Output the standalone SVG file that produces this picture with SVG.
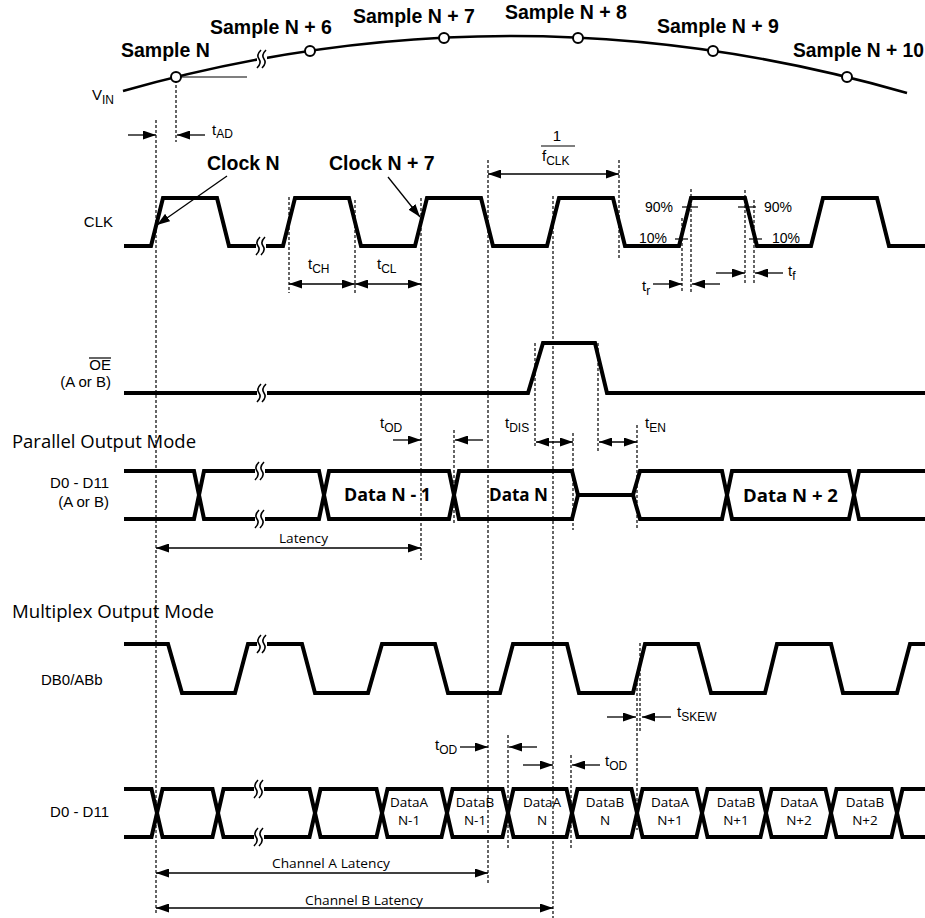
<svg xmlns="http://www.w3.org/2000/svg" width="925" height="918" viewBox="0 0 925 918">
<style>
.w{fill:none;stroke:#000;stroke-width:4;stroke-linejoin:miter}
.d{fill:none;stroke:#000;stroke-width:1.2;stroke-dasharray:3,2}
.a{fill:none;stroke:#000;stroke-width:1.3;marker-end:url(#ah)}
.aa{fill:none;stroke:#000;stroke-width:1.3;marker-start:url(#ah);marker-end:url(#ah)}
.t{fill:none;stroke:#000;stroke-width:1.2}
text{font-family:"Liberation Sans",Arial,sans-serif;fill:#000}
.b{font-weight:bold;font-size:19.5px}
.r{font-size:15px}
.s{font-size:12px}
.p{font-size:14px}
.c{font-family:"Open Sans","Liberation Sans",sans-serif}
.db{font-weight:bold;font-size:18px;text-anchor:middle}
.m{font-family:"Open Sans","Liberation Sans",sans-serif;font-size:13.5px;text-anchor:middle}
</style>
<defs>
<marker id="ah" viewBox="0 0 13 9" markerWidth="13" markerHeight="9" refX="13" refY="4.5" orient="auto-start-reverse" markerUnits="userSpaceOnUse"><path d="M0,0 L13,4.5 L0,9 z" fill="#000"/></marker>
<g id="brk"><rect x="-5" y="-4" width="10" height="8" fill="#fff"/><path d="M-1,-9 Q-6,-4 -3,0 Q0,4 -5,9 M4,-9 Q-1,-4 2,0 Q5,4 0,9" fill="none" stroke="#000" stroke-width="1.6"/></g>
</defs>
<rect width="925" height="918" fill="#fff"/>

<g id="connectors">
<line class="d" x1="156" y1="120" x2="156" y2="915"/>
<line class="d" x1="176" y1="80" x2="176" y2="142"/>
<line class="d" x1="289" y1="197" x2="289" y2="293"/>
<line class="d" x1="355" y1="200" x2="355" y2="293"/>
<line class="d" x1="421" y1="198" x2="421" y2="560"/>
<line class="d" x1="488" y1="160" x2="488" y2="885"/>
<line class="d" x1="553" y1="196" x2="553" y2="918"/>
<line class="d" x1="619" y1="160" x2="619" y2="260"/>
<line class="d" x1="682" y1="218" x2="682" y2="292"/>
<line class="d" x1="691" y1="189" x2="691" y2="292"/>
<line class="d" x1="745" y1="190" x2="745" y2="285"/>
<line class="d" x1="754" y1="200" x2="754" y2="285"/>
<line class="d" x1="535" y1="343" x2="535" y2="448"/>
<line class="d" x1="598" y1="343" x2="598" y2="453"/>
<line class="d" x1="637" y1="425" x2="637" y2="530"/>
<line class="d" x1="573" y1="433" x2="573" y2="530"/>
<line class="d" x1="454" y1="430" x2="454" y2="523"/>
<line class="d" x1="640" y1="643" x2="640" y2="733"/>
<line class="d" x1="637" y1="673" x2="637" y2="830"/>
<line class="d" x1="508" y1="735" x2="508" y2="848"/>
<line class="d" x1="571" y1="755" x2="571" y2="848"/>

<line class="a" x1="128" y1="135" x2="156" y2="135"/>
<line class="a" x1="205" y1="135" x2="177" y2="135"/>
<line class="aa" x1="289" y1="284" x2="355" y2="284"/>
<line class="aa" x1="355" y1="284" x2="421" y2="284"/>
<line class="aa" x1="488" y1="174" x2="619" y2="174"/>
<line class="a" x1="653" y1="284" x2="682" y2="284"/>
<line class="a" x1="720" y1="284" x2="692" y2="284"/>
<line class="a" x1="716" y1="273" x2="745" y2="273"/>
<line class="a" x1="783" y1="273" x2="755" y2="273"/>
<line class="a" x1="393" y1="440" x2="421" y2="440"/>
<line class="a" x1="483" y1="440" x2="455" y2="440"/>
<line class="aa" x1="536" y1="442" x2="573" y2="442"/>
<line class="aa" x1="599" y1="442" x2="637" y2="442"/>
<line class="aa" x1="156" y1="548" x2="421" y2="548"/>
<line class="a" x1="607" y1="717" x2="636" y2="717"/>
<line class="a" x1="671" y1="717" x2="642" y2="717"/>
<line class="a" x1="460" y1="747" x2="488" y2="747"/>
<line class="a" x1="537" y1="747" x2="509" y2="747"/>
<line class="a" x1="523" y1="765" x2="553" y2="765"/>
<line class="a" x1="600" y1="765" x2="572" y2="765"/>
<line class="aa" x1="156" y1="873" x2="488" y2="873"/>
<line class="aa" x1="156" y1="908" x2="553" y2="908"/>
<line class="a" x1="227" y1="176" x2="157" y2="225"/>
<line class="a" x1="388" y1="177" x2="420" y2="217"/>
<line class="t" x1="176" y1="77" x2="247" y2="77"/>
<line class="t" x1="682" y1="207" x2="698" y2="207"/>
<line class="t" x1="675" y1="239" x2="688" y2="239"/>
<line class="t" x1="738" y1="207" x2="756" y2="207"/>
<line class="t" x1="749" y1="239" x2="762" y2="239"/>
<line class="t" x1="541" y1="146" x2="575" y2="146"/>
</g>

<g id="vin">
<path d="M123,91 Q515,-20 907,93" fill="none" stroke="#000" stroke-width="2.6"/>
<use href="#brk" x="262" y="59"/>
<g fill="#fff" stroke="#000" stroke-width="2">
<circle cx="176" cy="77" r="5"/>
<circle cx="310" cy="51" r="5"/>
<circle cx="444" cy="38" r="5"/>
<circle cx="578" cy="38" r="5"/>
<circle cx="713" cy="51" r="5"/>
<circle cx="847" cy="77" r="5"/>
</g>
<text x="92" y="100" class="r">V<tspan class="s" dy="4">IN</tspan></text>
<text x="121" y="57" class="b">Sample N</text>
<text x="210" y="34" class="b">Sample N + 6</text>
<text x="353" y="23" class="b">Sample N + 7</text>
<text x="505" y="19" class="b">Sample N + 8</text>
<text x="657" y="33" class="b">Sample N + 9</text>
<text x="793" y="57" class="b" textLength="131" lengthAdjust="spacingAndGlyphs">Sample N + 10</text>
<text x="212" y="135" class="r">t<tspan class="s" dy="3">AD</tspan></text>
</g>

<g id="clk">
<path class="w" d="M124,246 L151,246 L163,198 L217,198 L229,246 L283,246 L295,198 L349,198 L361,246 L415,246 L427,198 L481,198 L493,246 L547,246 L559,198 L613,198 L625,246 L679,246 L691,198 L745,198 L757,246 L811,246 L823,198 L877,198 L889,246 L925,246"/>
<use href="#brk" x="261" y="246"/>
<text x="113" y="227" class="r" text-anchor="end">CLK</text>
<text x="207" y="170" class="b">Clock N</text>
<text x="329" y="170" class="b">Clock N + 7</text>
<text x="308" y="269" class="r">t<tspan class="s" dy="4">CH</tspan></text>
<text x="377" y="269" class="r">t<tspan class="s" dy="4">CL</tspan></text>
<text x="557" y="141" class="r" text-anchor="middle">1</text>
<text x="542" y="161" class="r">f<tspan class="s" dy="4">CLK</tspan></text>
<text x="645" y="212" class="p">90%</text>
<text x="639" y="243" class="p">10%</text>
<text x="764" y="212" class="p">90%</text>
<text x="772" y="243" class="p">10%</text>
<text x="642" y="291" class="r">t<tspan class="s" dy="4">r</tspan></text>
<text x="788" y="276" class="r">t<tspan class="s" dy="4">f</tspan></text>
</g>

<g id="oe">
<path class="w" d="M124,393 L528,393 L543,343 L595,343 L607,393 L925,393"/>
<use href="#brk" x="262" y="393"/>
<text x="111" y="370" class="r" text-anchor="end">OE</text>
<line x1="89" y1="358" x2="111" y2="358" stroke="#000" stroke-width="1.2"/>
<text x="111" y="387" class="r" text-anchor="end">(A or B)</text>
<text x="380" y="428" class="r">t<tspan class="s" dy="4">OD</tspan></text>
<text x="505" y="428" class="r">t<tspan class="s" dy="4">DIS</tspan></text>
<text x="645" y="428" class="r">t<tspan class="s" dy="4">EN</tspan></text>
</g>

<g id="parallel">
<text x="12" y="448" class="c" font-size="18" textLength="184" lengthAdjust="spacingAndGlyphs">Parallel Output Mode</text>
<path class="w" d="M124,471 L194,471 L204,519 L319,519 L329,471 L449,471 L459,519 L572,519 L578,495 L633,495 L640,471 L722,471 L732,519 L849,519 L859,471 L925,471"/>
<path class="w" d="M124,519 L194,519 L204,471 L319,471 L329,519 L449,519 L459,471 L572,471 L578,495 M633,495 L640,519 L722,519 L732,471 L849,471 L859,519 L925,519"/>
<use href="#brk" x="260" y="471"/>
<use href="#brk" x="260" y="519"/>
<text x="109" y="488" class="r" text-anchor="end">D0 - D11</text>
<text x="109" y="507" class="r" text-anchor="end">(A or B)</text>
<text x="387.5" y="501" class="db c" textLength="87" lengthAdjust="spacingAndGlyphs">Data N - 1</text>
<text x="518.5" y="501" class="db c" textLength="59" lengthAdjust="spacingAndGlyphs">Data N</text>
<text x="790.5" y="502" class="db c" textLength="95" lengthAdjust="spacingAndGlyphs">Data N + 2</text>
<text x="279" y="543" class="c" font-size="12" textLength="49" lengthAdjust="spacingAndGlyphs">Latency</text>
</g>

<g id="multiplex">
<text x="12" y="618" class="c" font-size="18" textLength="202" lengthAdjust="spacingAndGlyphs">Multiplex Output Mode</text>
<path class="w" d="M124,644 L168,644 L182,693 L235,693 L248,644 L302,644 L315,693 L368,693 L382,644 L435,644 L448,693 L500,693 L513,644 L567,644 L579,693 L633,693 L645,644 L698,644 L711,693 L765,693 L777,644 L831,644 L843,693 L897,693 L910,644 L925,644"/>
<use href="#brk" x="262" y="644"/>
<text x="41" y="685" class="r">DB0/ABb</text>
<text x="677" y="717" class="r">t<tspan class="s" dy="4">SKEW</tspan></text>
<text x="435" y="750" class="r">t<tspan class="s" dy="4">OD</tspan></text>
<text x="605" y="766" class="r">t<tspan class="s" dy="4">OD</tspan></text>
<path class="w" d="M124,789 L151.5,789 L162.5,837 L212.5,837 L223.5,789 L309.5,789 L320.5,837 L376.5,837 L387.5,789 L441.5,789 L452.5,837 L502.5,837 L513.5,789 L566.5,789 L577.5,837 L631.5,837 L642.5,789 L696.5,789 L707.5,837 L760.5,837 L771.5,789 L825.5,789 L836.5,837 L891.5,837 L902.5,789 L925,789"/>
<path class="w" d="M124,837 L151.5,837 L162.5,789 L212.5,789 L223.5,837 L309.5,837 L320.5,789 L376.5,789 L387.5,837 L441.5,837 L452.5,789 L502.5,789 L513.5,837 L566.5,837 L577.5,789 L631.5,789 L642.5,837 L696.5,837 L707.5,789 L760.5,789 L771.5,837 L825.5,837 L836.5,789 L891.5,789 L902.5,837 L925,837"/>
<use href="#brk" x="259" y="789"/>
<use href="#brk" x="259" y="837"/>
<text x="109" y="817" class="r" text-anchor="end">D0 - D11</text>
<text class="m" x="409" y="807">DataA</text><text class="m" x="409" y="825">N-1</text>
<text class="m" x="475" y="807">DataB</text><text class="m" x="475" y="825">N-1</text>
<text class="m" x="542" y="807">DataA</text><text class="m" x="542" y="825">N</text>
<text class="m" x="605" y="807">DataB</text><text class="m" x="605" y="825">N</text>
<text class="m" x="670" y="807">DataA</text><text class="m" x="670" y="825">N+1</text>
<text class="m" x="736" y="807">DataB</text><text class="m" x="736" y="825">N+1</text>
<text class="m" x="799" y="807">DataA</text><text class="m" x="799" y="825">N+2</text>
<text class="m" x="865" y="807">DataB</text><text class="m" x="865" y="825">N+2</text>
<text x="272" y="868" class="c" font-size="12" textLength="118" lengthAdjust="spacingAndGlyphs">Channel A Latency</text>
<text x="305" y="905" class="c" font-size="12" textLength="118" lengthAdjust="spacingAndGlyphs">Channel B Latency</text>
</g>
</svg>
